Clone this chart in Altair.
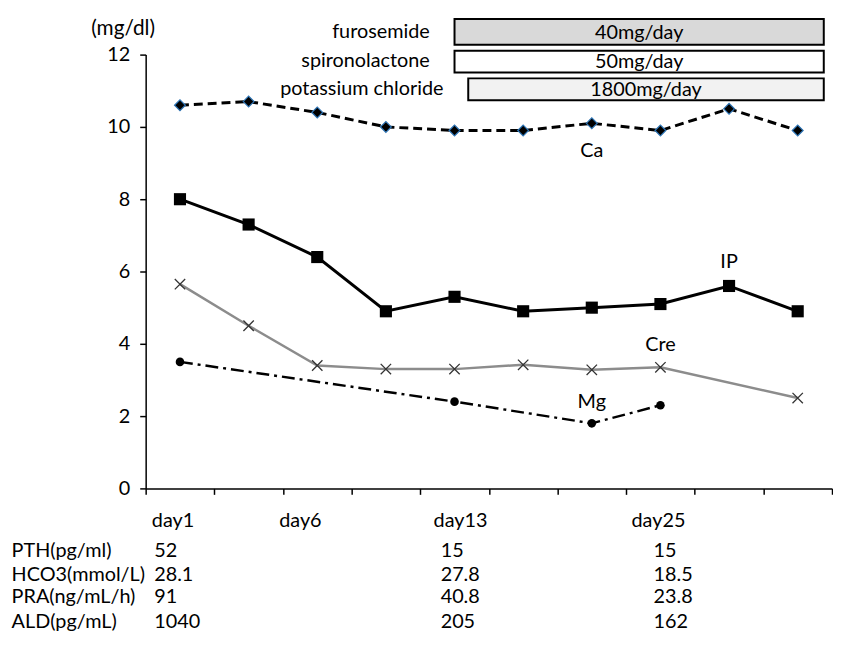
import altair as alt
import pandas as pd

# ---------------- data ----------------
days = list(range(10))
ca = [10.6, 10.7, 10.4, 10.0, 9.9, 9.9, 10.1, 9.9, 10.5, 9.9]
ip = [8.0, 7.3, 6.4, 4.9, 5.3, 4.9, 5.0, 5.1, 5.6, 4.9]
cre = [5.65, 4.5, 3.4, 3.3, 3.3, 3.42, 3.28, 3.35, None, 2.5]
mg = [3.5, None, None, None, 2.4, None, 1.8, 2.3, None, None]

unit_label = "(mg/dl)"

day_labels = ["day1", "day6", "day13", "day25"]
day_label_idx = [0, 2, 4, 7]

lab_names = ["PTH(pg/ml)", "HCO3(mmol/L)", "PRA(ng/mL/h)", "ALD(pg/mL)"]
lab_day1 = ["52", "28.1", "91", "1040"]
lab_day13 = ["15", "27.8", "40.8", "205"]
lab_day25 = ["15", "18.5", "23.8", "162"]

meds = ["furosemide", "spironolactone", "potassium chloride"]
doses = ["40mg/day", "50mg/day", "1800mg/day"]
med_start = [4.0, 4.0, 4.2]
med_end = [9.38, 9.38, 9.38]
med_fill = ["#d9d9d9", "#ffffff", "#f2f2f2"]

FONT = "Lato"
FS = 20

def series_df(vals):
    return pd.DataFrame({"day": [d for d, v in zip(days, vals) if v is not None],
                         "value": [v for v in vals if v is not None]})

X = alt.X("day:Q",
          scale=alt.Scale(domain=[-0.5, 9.5], nice=False, zero=False),
          axis=alt.Axis(values=[i - 0.5 for i in range(11)], labels=False, ticks=True,
                        tickSize=6, grid=False, domainColor="black", tickColor="black",
                        domainWidth=1.5, tickWidth=1.5, title=None))
Y = alt.Y("value:Q",
          scale=alt.Scale(domain=[0, 12], nice=False, zero=True),
          axis=alt.Axis(values=list(range(0, 13, 2)), tickSize=6, grid=False,
                        labelFontSize=FS, labelFont=FONT, labelColor="black", labelPadding=10,
                        domainColor="black", tickColor="black", domainWidth=1.5, tickWidth=1.5,
                        title=None))

layers = []
# Cre
d = series_df(cre)
layers.append(alt.Chart(d).mark_line(color="#8c8c8c", strokeWidth=2.5).encode(x=X, y=Y))
layers.append(alt.Chart(d).mark_point(shape="M-1,-1L1,1M1,-1L-1,1", filled=False, color="#333333",
                                      strokeWidth=1.3, size=110, opacity=1).encode(x=X, y=Y))
# Mg
d = series_df(mg)
layers.append(alt.Chart(d).mark_line(color="black", strokeWidth=2.5, strokeDash=[13, 5, 3, 5]).encode(x=X, y=Y))
layers.append(alt.Chart(d).mark_circle(color="black", size=75, opacity=1).encode(x=X, y=Y))
# IP
d = series_df(ip)
layers.append(alt.Chart(d).mark_line(color="black", strokeWidth=3).encode(x=X, y=Y))
layers.append(alt.Chart(d).mark_square(color="black", size=150, opacity=1).encode(x=X, y=Y))
# Ca
d = series_df(ca)
layers.append(alt.Chart(d).mark_line(color="black", strokeWidth=3, strokeDash=[9, 5]).encode(x=X, y=Y))
layers.append(alt.Chart(d).mark_point(shape="diamond", filled=True, fill="black", stroke="#2e75b6",
                                      strokeWidth=1.2, size=120, opacity=1).encode(x=X, y=Y))

# unit label above the y axis
unit_df = pd.DataFrame({"day": [-0.5], "value": [12], "t": [unit_label]})
layers.append(alt.Chart(unit_df).mark_text(font=FONT, fontSize=21, color="black", dx=-55, dy=-26,
                                           baseline="middle", align="left")
              .encode(x=X, y=Y, text="t:N"))

# series labels (placed at a data point, offset)
for name, vals, idx, dy in [("Ca", ca, 6, 28), ("IP", ip, 8, -24), ("Cre", cre, 7, -22), ("Mg", mg, 6, -21)]:
    df = pd.DataFrame({"day": [idx], "value": [vals[idx]], "t": [name]})
    layers.append(alt.Chart(df).mark_text(font=FONT, fontSize=FS, color="black", dy=dy,
                                          baseline="middle", align="center")
                  .encode(x=X, y=Y, text="t:N"))

# day labels under x axis
for lab, idx, dx in zip(day_labels, day_label_idx, [-7, -17, 6, -2]):
    df = pd.DataFrame({"day": [idx], "value": [0], "t": [lab]})
    layers.append(alt.Chart(df).mark_text(font=FONT, fontSize=FS, color="black", dx=dx, dy=33,
                                          baseline="middle", align="center")
                  .encode(x=X, y=Y, text="t:N"))

# table below
row_dy = [63, 87, 110, 135]
for col_vals, idx, dx in [(lab_names, 0, -170), (lab_day1, 0, -26), (lab_day13, 4, -14), (lab_day25, 7, -7)]:
    for t, dy in zip(col_vals, row_dy):
        df = pd.DataFrame({"day": [idx], "value": [0], "t": [t]})
        layers.append(alt.Chart(df).mark_text(font=FONT, fontSize=FS, color="black", dx=dx, dy=dy,
                                              baseline="middle", align="left")
                      .encode(x=X, y=Y, text="t:N"))

# medication bars
bar_px = [(-36, -10), (-4, 18), (24, 46)]
for i in range(3):
    y0, y1 = bar_px[i]
    bar_df = pd.DataFrame({"day": [med_start[i]], "day2": [med_end[i]], "med": [meds[i]]})
    mid_df = pd.DataFrame({"day": [(med_start[i] + med_end[i]) / 2], "dose": [doses[i]]})
    layers.append(alt.Chart(bar_df).mark_rect(fill=med_fill[i], stroke="black", strokeWidth=2)
                  .encode(x=X, x2="day2:Q", y=alt.value(y0), y2=alt.value(y1)))
    layers.append(alt.Chart(mid_df).mark_text(font=FONT, fontSize=FS, color="black", baseline="middle",
                                              align="center", dy=1)
                  .encode(x=X, y=alt.value((y0 + y1) / 2), text="dose:N"))
    layers.append(alt.Chart(bar_df).mark_text(font=FONT, fontSize=FS, color="black", baseline="middle",
                                              align="right", dx=-25)
                  .encode(x=X, y=alt.value((y0 + y1) / 2), text="med:N"))

chart = alt.layer(*layers).properties(
    width=693, height=438,
    padding={"left": 139, "top": 44, "right": 1, "bottom": 150},
    autosize=alt.AutoSizeParams(type="none"),
    background="white",
).configure_view(stroke=None)

chart.save("out.html", embed_options={"renderer": "svg", "actions": False})
